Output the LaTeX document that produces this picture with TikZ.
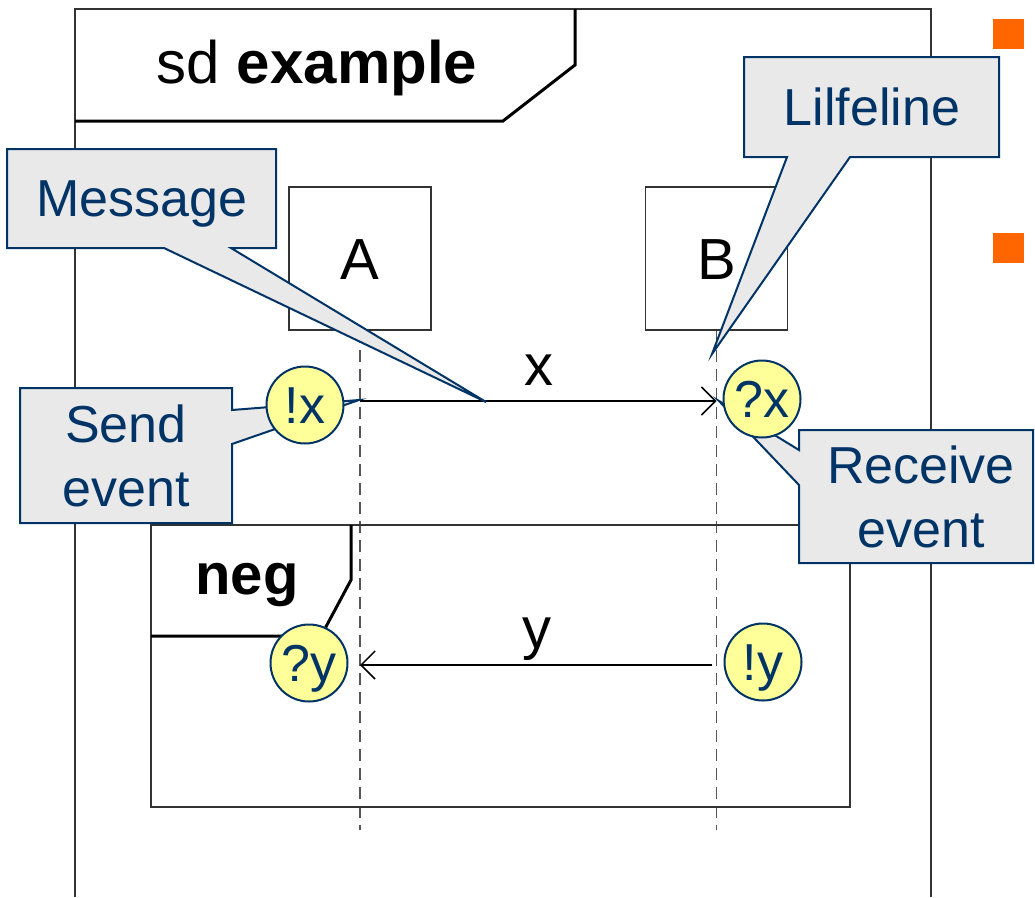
\documentclass[tikz,border=0pt]{standalone}
\usepackage{fontspec}
\setmainfont{Liberation Sans}
\usetikzlibrary{arrows.meta}

\definecolor{calloutfill}{HTML}{E9E9E9}
\definecolor{calloutline}{HTML}{003366}
\definecolor{eventfill}{HTML}{FFFF99}
\definecolor{bulletorange}{HTML}{FF6600}
\definecolor{framegray}{HTML}{333333}
\definecolor{linegray}{HTML}{555555}

\newcommand\diagfont{\fontsize{58}{66}\selectfont}
\newcommand\framefont{\fontsize{60}{68}\selectfont}
\newcommand\calloutfont{\fontsize{52}{64}\selectfont}

\pgfdeclarelayer{diagram}
\pgfdeclarelayer{notes}
\pgfsetlayers{diagram,notes,main}

\begin{document}
\begin{tikzpicture}[x=1pt,y=-1pt,line join=miter,
  thinline/.style={draw=framegray,line width=1.5pt},
  tabline/.style={draw=black,line width=3pt},
  lifebox/.style={draw=framegray,line width=1.5pt,fill=white,minimum width=142pt,
    minimum height=143pt,inner sep=0pt,font=\diagfont,text height=42pt,text depth=0pt},
  lifeline/.style={draw=linegray,line width=1.8pt,dash pattern=on 12pt off 7pt},
  msgline/.style={draw=black,line width=1.5pt,-{Straight Barb[length=14pt,width=28pt]}},
  diaglabel/.style={font=\diagfont,inner sep=0pt},
  calloutbox/.style={fill=calloutfill,draw=calloutline,line width=2pt},
  callouttext/.style={text=calloutline,font=\calloutfont,align=center,inner sep=0pt,text depth=0pt},
  event/.style={circle,fill=eventfill,draw=calloutline,line width=2pt,minimum size=77pt,
    inner sep=0pt,text=calloutline,font=\calloutfont,text height=37pt,text depth=0pt}]

\useasboundingbox (0,0) rectangle (1035,897);

% ---------- sequence diagram ----------
\begin{pgfonlayer}{diagram}
  % sd frame and its name tab
  \draw[thinline] (75,897) -- (75,9) -- (931,9) -- (931,897);
  \draw[tabline] (75,121) -- (503,121) -- (575,65) -- (575,9);
  \node[font=\framefont,inner sep=0pt,anchor=base] (sdname) at (317,83) {sd \textbf{example}};

  % lifeline heads
  \node[lifebox] (A) at (360,258.5) {A};
  \node[lifebox] (B) at (716.5,258.5) {B};
  \coordinate (Aend) at (360,830);
  \coordinate (Bend) at (716.5,830);
  \draw[lifeline] (A.south) -- (Aend);
  \draw[lifeline] (B.south) -- (Bend);

  % message x
  \coordinate (sendx) at (360,401);
  \coordinate (recvx) at (716.5,401);
  \draw[msgline] (sendx) -- (recvx);
  \node[diaglabel,anchor=base] (xlabel) at (539,385) {x};

  % negative combined fragment
  \draw[thinline] (151,525) rectangle (850,807);
  \draw[tabline] (151,636) -- (321,636) -- (351,580) -- (351,525);
  \node[diaglabel,anchor=base] (neglabel) at (247,594) {\textbf{neg}};

  % message y
  \coordinate (sendy) at (712,665);
  \coordinate (recvy) at (360,665);
  \draw[msgline] (sendy) -- (recvy);
  \node[diaglabel,anchor=base] (ylabel) at (537,648) {y};
\end{pgfonlayer}

% ---------- annotations ----------
\coordinate (msgtip) at (486,402);
\coordinate (lifetip) at (712,354);
\coordinate (sendtip) at (359,400);
\coordinate (recvtip) at (719,401);

\begin{pgfonlayer}{notes}
  \draw[calloutbox] (7,149) -- (276,149) -- (276,248) -- (231,248) -- (msgtip)
    -- (164,248) -- (7,248) -- cycle;
  \draw[calloutbox] (744,57) -- (999,57) -- (999,157) -- (850,157) -- (lifetip)
    -- (787,157) -- (744,157) -- cycle;
  \draw[calloutbox] (20,388) -- (232,388) -- (232,410) -- (sendtip)
    -- (232,444) -- (232,523) -- (20,523) -- cycle;
  \draw[calloutbox] (799,430) -- (1033,430) -- (1033,563) -- (799,563)
    -- (799,485) -- (recvtip) -- (799,450) -- cycle;
\end{pgfonlayer}

\node[callouttext] (msgnote) at (142,198.5) {Message};
\node[callouttext] (lifenote) at (872,107) {Lilfeline};
\node[callouttext] (sendnote) at (126,455.5) {Send\\event};
\node[callouttext] (recvnote) at (921,496.5) {Receive\\event};

% occurrence events
\node[event] (evsendx) at (305,405) {!x};
\node[event] (evrecvx) at (762,399) {?x};
\node[event] (evrecvy) at (309,663) {?y};
\node[event] (evsendy) at (763,662) {!y};

% list bullets
\fill[bulletorange] (993,19) rectangle (1024,49);
\fill[bulletorange] (993,233) rectangle (1024,263);

\end{tikzpicture}
\end{document}
